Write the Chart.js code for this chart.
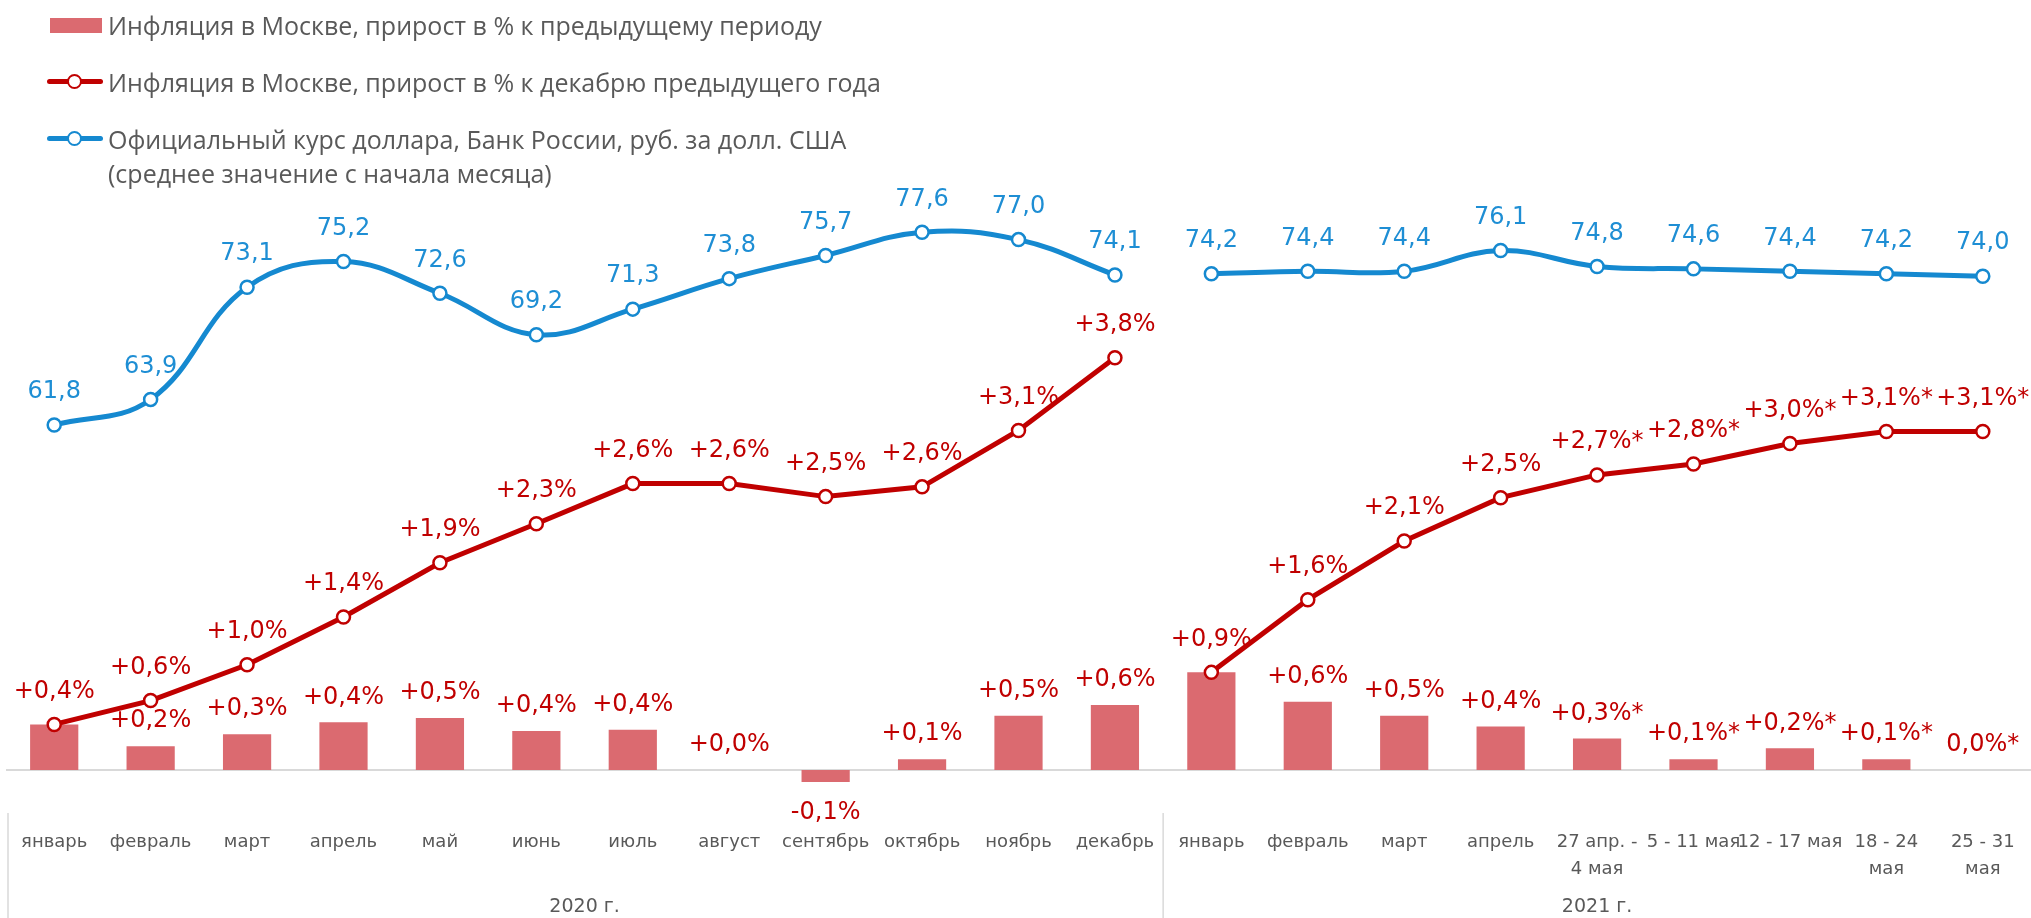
<!DOCTYPE html>
<html lang="ru">
<head>
<meta charset="utf-8">
<title>Инфляция в Москве</title>
<script src="https://cdn.jsdelivr.net/npm/chart.js@4.4.1/dist/chart.umd.min.js"></script>
<style>
  html, body { margin: 0; padding: 0; background: #fff; overflow: hidden; }
  #wrap { position: relative; width: 2031px; height: 918px; }
  #legend { position: absolute; left: 0; top: 0; font-family: "Open Sans", sans-serif; font-size: 25px; line-height: 34px; color: #595959; z-index: 2; }
  .txt { position: absolute; left: 108px; white-space: nowrap; }
  .box { position: absolute; left: 50px; width: 52px; height: 15px; background: #DB6A70; }
  .ln { position: absolute; left: 47px; width: 56px; height: 5px; border-radius: 3px; }
  .dot { position: absolute; left: 67px; width: 11px; height: 11px; border-radius: 50%; background: #fff; border: 2.5px solid; }
</style>
</head>
<body>
<div id="wrap">
  <canvas id="grafico" width="2031" height="918"></canvas>
  <div id="legend">
    <div class="box" style="top:18px"></div>
    <div class="txt" style="top:8px">Инфляция в Москве, прирост в % к предыдущему периоду</div>

    <div class="ln" style="top:79px;background:#C00000"></div>
    <div class="dot" style="top:74px;border-color:#C00000"></div>
    <div class="txt" style="top:65px">Инфляция в Москве, прирост в % к декабрю предыдущего года</div>

    <div class="ln" style="top:136px;background:#1589D0"></div>
    <div class="dot" style="top:131px;border-color:#1589D0"></div>
    <div class="txt" style="top:122px">Официальный курс доллара, Банк России, руб. за долл. США<br>(среднее значение с начала месяца)</div>
  </div>
</div>

<script>
const FONT = '"DejaVu Sans", sans-serif'

// categorias (2020 por meses, 2021 meses + semanas)
const categorias = ['январь', 'февраль', 'март', 'апрель', 'май', 'июнь', 'июль', 'август', 'сентябрь', 'октябрь', 'ноябрь', 'декабрь',
    'январь', 'февраль', 'март', 'апрель', ['27 апр. -', '4 мая'], '5 - 11 мая', '12 - 17 мая', ['18 - 24', 'мая'], ['25 - 31', 'мая']]
const grupos = ['2020 г.', '2021 г.']
const n2020 = 12

// inflacion al periodo anterior (barras)
const inflPeriodo = [0.42, 0.22, 0.33, 0.44, 0.48, 0.36, 0.37, 0.0, -0.11, 0.10, 0.50, 0.60,
    0.90, 0.63, 0.50, 0.40, 0.29, 0.10, 0.20, 0.10, 0.0]
const inflPeriodoTxt = ['', '+0,2%', '+0,3%', '+0,4%', '+0,5%', '+0,4%', '+0,4%', '+0,0%', '-0,1%', '+0,1%', '+0,5%', '+0,6%',
    '', '+0,6%', '+0,5%', '+0,4%', '+0,3%*', '+0,1%*', '+0,2%*', '+0,1%*', '0,0%*']

// inflacion acumulada desde diciembre
const inflAcum2020 = [0.42, 0.64, 0.97, 1.41, 1.91, 2.27, 2.64, 2.64, 2.52, 2.61, 3.13, 3.80]
const inflAcum2021 = [0.90, 1.57, 2.11, 2.51, 2.72, 2.82, 3.01, 3.12, 3.12]
const inflAcum2020Txt = ['+0,4%', '+0,6%', '+1,0%', '+1,4%', '+1,9%', '+2,3%', '+2,6%', '+2,6%', '+2,5%', '+2,6%', '+3,1%', '+3,8%']
const inflAcum2021Txt = ['+0,9%', '+1,6%', '+2,1%', '+2,5%', '+2,7%*', '+2,8%*', '+3,0%*', '+3,1%*', '+3,1%*']

// curso del dolar
const dolar2020 = [61.8, 63.9, 73.1, 75.2, 72.6, 69.2, 71.3, 73.8, 75.7, 77.6, 77.0, 74.1]
const dolar2021 = [74.2, 74.4, 74.4, 76.1, 74.8, 74.6, 74.4, 74.2, 74.0]

const ROJO = '#C00000'
const AZUL = '#1589D0'
const AZUL_TXT = '#1E8ED4'
const BARRA = '#DB6A70'
const GRIS = '#595959'

// rellena con null para separar 2020 y 2021
function parte2020(arr) { return arr.concat(Array(categorias.length - n2020).fill(null)) }
function parte2021(arr) { return Array(n2020).fill(null).concat(arr) }
function coma(v) { return v == null ? '' : v.toFixed(1).replace('.', ',') }

function lineaDs(datos, textos, color, colorTxt, eje, tension) {
    return {
        type: 'line',
        data: datos,
        textos: textos,
        colorTxt: colorTxt,
        yAxisID: eje,
        borderColor: color,
        borderWidth: 5,
        tension: tension,
        pointRadius: 6.5,
        pointBorderWidth: 2.5,
        pointBackgroundColor: '#fff',
        pointBorderColor: color,
        order: 1
    }
}

/* etiquetas de valores */
const etiquetas = {
    id: 'etiquetas',
    afterDatasetsDraw(chart) {
        const ctx = chart.ctx
        ctx.save()
        ctx.font = '24px ' + FONT
        ctx.textAlign = 'center'
        ctx.textBaseline = 'middle'
        chart.data.datasets.forEach((ds, i) => {
            const meta = chart.getDatasetMeta(i)
            meta.data.forEach((el, j) => {
                const t = ds.textos[j]
                if (!t) return
                ctx.fillStyle = ds.colorTxt
                let y
                if (meta.type === 'bar') y = ds.data[j] < 0 ? el.y + 31 : el.y - 25
                else y = el.y - 33
                ctx.fillText(t, el.x, y)
            })
        })
        ctx.restore()
    }
}

/* linea del cero, separadores y años */
const decoracion = {
    id: 'decoracion',
    beforeDatasetsDraw(chart) {
        const ctx = chart.ctx, area = chart.chartArea
        const y0 = chart.scales.y.getPixelForValue(0)
        ctx.save()
        ctx.strokeStyle = '#D9D9D9'
        ctx.lineWidth = 2
        ctx.beginPath()
        ctx.moveTo(area.left, y0)
        ctx.lineTo(area.right, y0)
        ctx.stroke()
        ctx.restore()
    },
    afterDraw(chart) {
        const ctx = chart.ctx, x = chart.scales.x
        const medio = (x.getPixelForValue(n2020 - 1) + x.getPixelForValue(n2020)) / 2
        const seps = [x.left + 2, medio]
        ctx.save()
        ctx.strokeStyle = '#D9D9D9'
        ctx.lineWidth = 1.5
        seps.forEach(px => {
            ctx.beginPath()
            ctx.moveTo(px, x.top + 1)
            ctx.lineTo(px, chart.height)
            ctx.stroke()
        })
        ctx.fillStyle = GRIS
        ctx.font = '19px ' + FONT
        ctx.textAlign = 'center'
        ctx.textBaseline = 'middle'
        ctx.fillText(grupos[0], (x.left + medio) / 2, 907)
        ctx.fillText(grupos[1], (medio + x.right) / 2, 907)
        ctx.restore()
    }
}

const ctx = document.getElementById('grafico').getContext('2d')

const data = {
    labels: categorias,
    datasets: [
        lineaDs(parte2020(dolar2020), parte2020(dolar2020).map(coma), AZUL, AZUL_TXT, 'y2', 0.4),
        lineaDs(parte2021(dolar2021), parte2021(dolar2021).map(coma), AZUL, AZUL_TXT, 'y2', 0.4),
        lineaDs(parte2020(inflAcum2020), parte2020(inflAcum2020Txt), ROJO, ROJO, 'y', 0),
        lineaDs(parte2021(inflAcum2021), parte2021(inflAcum2021Txt), ROJO, ROJO, 'y', 0),
        {
            type: 'bar',
            data: inflPeriodo,
            textos: inflPeriodoTxt,
            colorTxt: ROJO,
            yAxisID: 'y',
            backgroundColor: BARRA,
            barPercentage: 0.5,
            categoryPercentage: 1,
            order: 3
        }
    ]
}

const options = {
    responsive: false,
    animation: false,
    layout: { autoPadding: false, padding: { left: 6, right: -3, top: 10, bottom: 0 } },
    scales: {
        x: {
            grid: { display: false, drawTicks: false },
            border: { display: false },
            ticks: { color: GRIS, font: { family: FONT, size: 18, lineHeight: 1.5 }, padding: 17, maxRotation: 0, autoSkip: false },
            afterFit(s) {
                s.height = 106
                s.paddingLeft = 0
                s.paddingRight = 0
            }
        },
        y: { display: false, min: -0.387, max: 7.005 },
        y2: { display: false, min: 30.08, max: 95.82 }
    },
    plugins: {
        legend: { display: false },
        tooltip: { enabled: false }
    }
}

new Chart(ctx, { type: 'bar', data, options, plugins: [etiquetas, decoracion] })
</script>
</body>
</html>
